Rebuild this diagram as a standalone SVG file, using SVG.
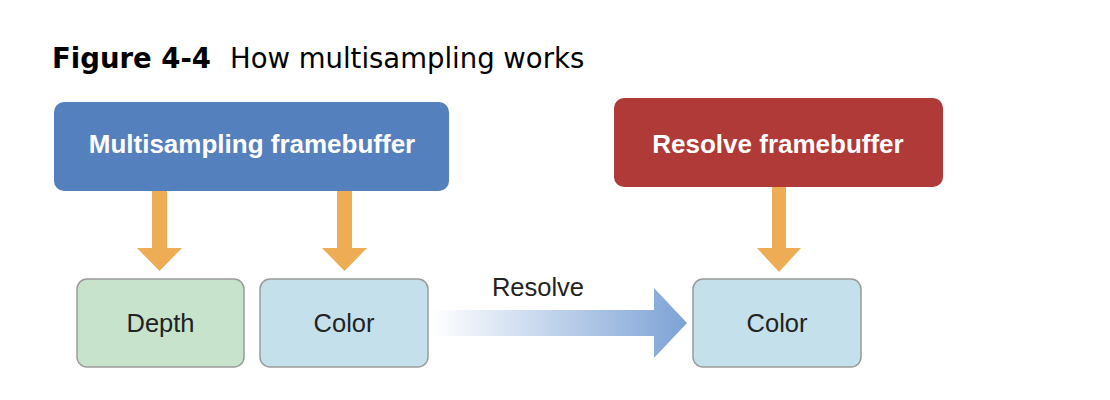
<svg xmlns="http://www.w3.org/2000/svg" width="1110" height="400" viewBox="0 0 1110 400">
<style>
.title{font-family:"DejaVu Sans",Verdana,sans-serif;font-size:27.5px;fill:#000}
.hdr{font-family:"Liberation Sans",Arial,sans-serif;font-size:26px;font-weight:bold;fill:#fff;text-anchor:middle}
.lbl{font-family:"Liberation Sans",Arial,sans-serif;font-size:25.5px;fill:#222;text-anchor:middle}
.box{stroke:#9a9a9a;stroke-width:1.5}
.orange{fill:#EEAD55}
</style>
<defs>
<linearGradient id="grad" x1="432" y1="0" x2="687" y2="0" gradientUnits="userSpaceOnUse">
<stop offset="0" stop-color="#ffffff"/>
<stop offset="1" stop-color="#7CA2D5"/>
</linearGradient>
</defs>
<rect width="1110" height="400" fill="#fff"/>
<text class="title" x="52" y="68"><tspan font-weight="bold">Figure 4-4</tspan><tspan x="230">How multisampling works</tspan></text>
<g id="connectors">
<path class="orange" d="M152,190 H167 V248 H182 L159.5,271 L137,248 H152 Z"/>
<path class="orange" d="M337,190 H352 V248 H367 L344.5,271 L322,248 H337 Z"/>
<path class="orange" d="M772,186 H786 V248 H801 L779,272 L757,248 H772 Z"/>
<path fill="url(#grad)" d="M432,310 H654 V288 L687,323 L654,358 V336 H432 Z"/>
<text class="lbl" x="538" y="296">Resolve</text>
</g>
<g id="multisampling">
<rect x="54" y="102" width="395" height="89" rx="10" fill="#5580BE"/>
<text class="hdr" x="252" y="153">Multisampling framebuffer</text>
</g>
<g id="resolve">
<rect x="614" y="98" width="329" height="89" rx="10" fill="#B03A38"/>
<text class="hdr" x="778" y="153">Resolve framebuffer</text>
</g>
<g id="depth">
<rect class="box" x="77" y="279" width="167" height="88" rx="10" fill="#C8E3CB"/>
<text class="lbl" x="160.5" y="332">Depth</text>
</g>
<g id="color1">
<rect class="box" x="260" y="279" width="168" height="88" rx="10" fill="#C3E0EB"/>
<text class="lbl" x="344" y="332">Color</text>
</g>
<g id="color2">
<rect class="box" x="693" y="279" width="168" height="88" rx="10" fill="#C3E0EB"/>
<text class="lbl" x="777" y="332">Color</text>
</g>
</svg>
